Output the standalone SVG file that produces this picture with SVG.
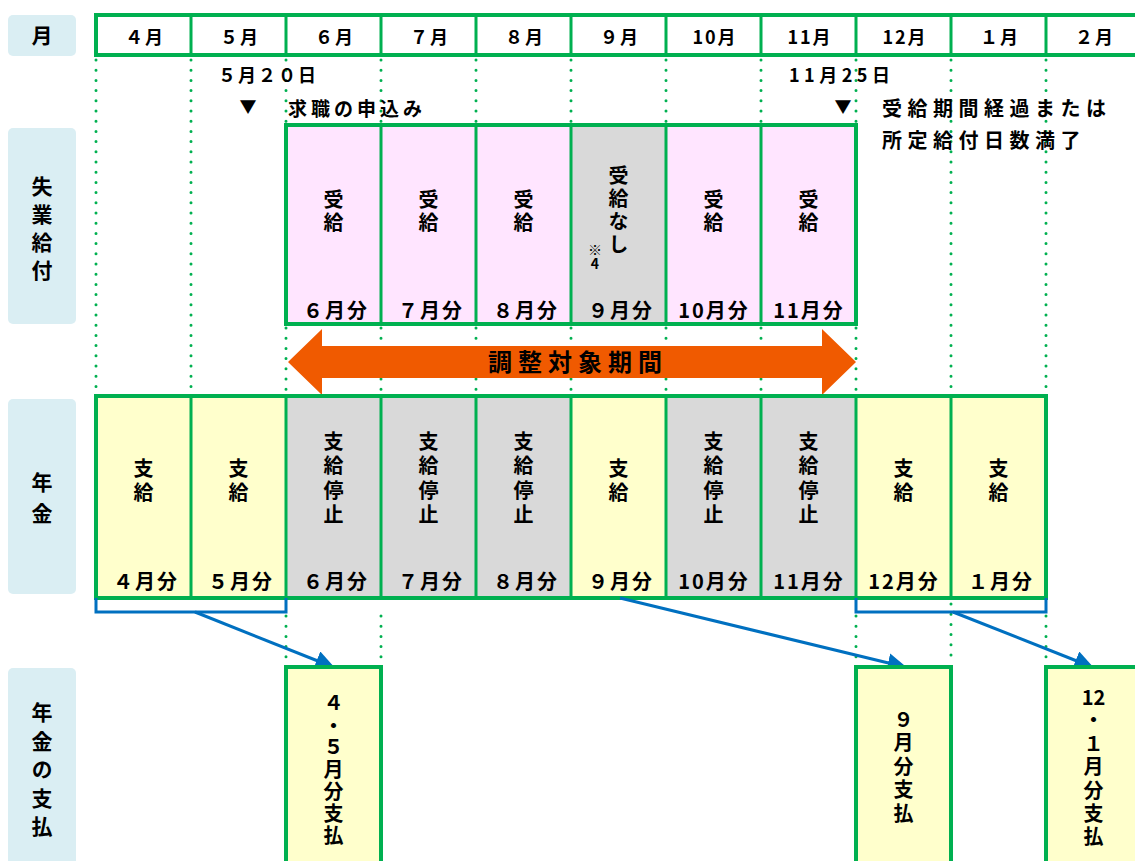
<svg xmlns="http://www.w3.org/2000/svg" width="1135" height="861" viewBox="0 0 1135 861">
<style>
text{font-family:"Noto Sans CJK JP","Liberation Sans",sans-serif;font-weight:700;fill:#000}
.lab{fill:#DAEEF3}
.g{stroke:#00B050;stroke-width:3}
.go{fill:none;stroke:#00B050;stroke-width:4}
.pk{fill:#FFE5FF}
.gy{fill:#D9D9D9}
.yl{fill:#FFFFCC}
.dot{stroke:#00B050;stroke-width:3;stroke-linecap:round;stroke-dasharray:0 10.2;fill:none}
.blue{stroke:#0070C0;stroke-width:3;fill:none}
.v{writing-mode:vertical-rl;text-orientation:upright;text-anchor:middle;font-size:20px}
.b{text-anchor:middle;font-size:20px;letter-spacing:2px}
.h{text-anchor:middle;font-size:18px;letter-spacing:2px}
.L{writing-mode:vertical-rl;text-orientation:upright;text-anchor:middle;font-size:21px}
</style>
<defs>
<marker id="ah" viewBox="0 0 10 10" refX="9" refY="5" markerWidth="6.5" markerHeight="6.5" markerUnits="strokeWidth" orient="auto">
<path d="M0,0 L10,5 L0,10 z" fill="#0070C0"/>
</marker>
</defs>

<g id="labels">
<g id="lab-month"><rect class="lab" x="8" y="15" width="68" height="41" rx="5"/><text x="42" y="43" style="font-size:21px;text-anchor:middle">月</text></g>
<g id="lab-unemp"><rect class="lab" x="8" y="128" width="68" height="196" rx="5"/>
<text class="L" x="42" y="232" style="letter-spacing:7px">失業給付</text></g>
<g id="lab-pension"><rect class="lab" x="8" y="399" width="68" height="195" rx="5"/>
<text class="L" x="42" y="503" style="letter-spacing:10px">年金</text></g>
<g id="lab-pay"><rect class="lab" x="8" y="668" width="68" height="210" rx="5"/>
<text class="L" x="42" y="773" style="letter-spacing:7.5px">年金の支払</text></g>
</g>

<g id="dotted">
<path class="dot" d="M96,60V392 M191,60V392 M286,60V122 M286,328V392 M286,616V664 M381,60V122 M381,328V392 M381,616V664 M476,60V122 M476,328V392 M571,60V122 M571,328V392 M666,60V122 M666,328V392 M761,60V122 M761,328V392 M856,60V122 M856,328V392 M856,616V664 M951,60V392 M951,604V664 M1046,60V392 M1046,616V664"/>
</g>

<g id="header">
<rect x="96" y="15" width="1045" height="40" fill="#fff"/>
<path class="g" d="M191,15V55 M286,15V55 M381,15V55 M476,15V55 M571,15V55 M666,15V55 M761,15V55 M856,15V55 M951,15V55 M1046,15V55"/>
<rect class="go" x="96" y="15" width="1045" height="40"/>
<text class="h" x="145" y="44">４月</text>
<text class="h" x="240" y="44">５月</text>
<text class="h" x="335" y="44">６月</text>
<text class="h" x="430" y="44">７月</text>
<text class="h" x="525" y="44">８月</text>
<text class="h" x="620" y="44">９月</text>
<text class="h" x="715" y="44">10月</text>
<text class="h" x="810" y="44">11月</text>
<text class="h" x="905" y="44">12月</text>
<text class="h" x="1000" y="44">１月</text>
<text class="h" x="1095" y="44">２月</text>
</g>

<g id="notes">
<text x="218" y="82" style="font-size:18px;letter-spacing:2px">５月２０日</text>
<text x="248" y="113" style="font-size:17px;text-anchor:middle">▼</text>
<text x="288" y="116" style="font-size:19px;letter-spacing:4px">求職の申込み</text>
<text x="789" y="82" style="font-size:18px;letter-spacing:4.5px">11月25日</text>
<text x="843" y="113" style="font-size:17px;text-anchor:middle">▼</text>
<text x="882" y="116" style="font-size:20px;letter-spacing:5.5px">受給期間経過または</text>
<text x="882" y="148" style="font-size:20px;letter-spacing:5.5px">所定給付日数満了</text>
</g>

<g id="adjust-arrow">
<polygon points="288,362 322,329 322,346 822,346 822,329 856,362 822,395 822,378 322,378 322,395" fill="#F05A00"/>
<text x="578" y="371" style="font-size:24px;text-anchor:middle;letter-spacing:6px">調整対象期間</text>
</g>

<g id="unemployment">
<rect class="pk" x="286" y="125" width="95" height="199"/>
<rect class="pk" x="381" y="125" width="95" height="199"/>
<rect class="pk" x="476" y="125" width="95" height="199"/>
<rect class="gy" x="571" y="125" width="95" height="199"/>
<rect class="pk" x="666" y="125" width="95" height="199"/>
<rect class="pk" x="761" y="125" width="95" height="199"/>
<path class="g" d="M381,125V324 M476,125V324 M571,125V324 M666,125V324 M761,125V324"/>
<rect class="go" x="286" y="125" width="570" height="199"/>
<text class="v" x="333.5" y="212" style="letter-spacing:3px">受給</text>
<text class="v" x="428.5" y="212" style="letter-spacing:3px">受給</text>
<text class="v" x="523.5" y="212" style="letter-spacing:3px">受給</text>
<text class="v" x="618.5" y="211" style="letter-spacing:3px">受給なし</text>
<text class="v" x="595" y="257" style="font-size:14px">※4</text>
<text class="v" x="713.5" y="212" style="letter-spacing:3px">受給</text>
<text class="v" x="808.5" y="212" style="letter-spacing:3px">受給</text>
<text class="b" x="336" y="318">６月分</text>
<text class="b" x="431" y="318">７月分</text>
<text class="b" x="526" y="318">８月分</text>
<text class="b" x="621" y="318">９月分</text>
<text class="b" x="714" y="318">10月分</text>
<text class="b" x="809" y="318">11月分</text>
</g>

<g id="pension">
<rect class="yl" x="96" y="396" width="95" height="202"/>
<rect class="yl" x="191" y="396" width="95" height="202"/>
<rect class="gy" x="286" y="396" width="95" height="202"/>
<rect class="gy" x="381" y="396" width="95" height="202"/>
<rect class="gy" x="476" y="396" width="95" height="202"/>
<rect class="yl" x="571" y="396" width="95" height="202"/>
<rect class="gy" x="666" y="396" width="95" height="202"/>
<rect class="gy" x="761" y="396" width="95" height="202"/>
<rect class="yl" x="856" y="396" width="95" height="202"/>
<rect class="yl" x="951" y="396" width="95" height="202"/>
<path class="g" d="M191,396V598 M286,396V598 M381,396V598 M476,396V598 M571,396V598 M666,396V598 M761,396V598 M856,396V598 M951,396V598"/>
<rect class="go" x="96" y="396" width="950" height="202"/>
<text class="v" x="143.5" y="482" style="letter-spacing:4px">支給</text>
<text class="v" x="238.5" y="482" style="letter-spacing:4px">支給</text>
<text class="v" x="333.5" y="480" style="letter-spacing:4.5px">支給停止</text>
<text class="v" x="428.5" y="480" style="letter-spacing:4.5px">支給停止</text>
<text class="v" x="523.5" y="480" style="letter-spacing:4.5px">支給停止</text>
<text class="v" x="618.5" y="482" style="letter-spacing:4px">支給</text>
<text class="v" x="713.5" y="480" style="letter-spacing:4.5px">支給停止</text>
<text class="v" x="808.5" y="480" style="letter-spacing:4.5px">支給停止</text>
<text class="v" x="903.5" y="482" style="letter-spacing:4px">支給</text>
<text class="v" x="998.5" y="482" style="letter-spacing:4px">支給</text>
<text class="b" x="146" y="589">４月分</text>
<text class="b" x="241" y="589">５月分</text>
<text class="b" x="336" y="589">６月分</text>
<text class="b" x="431" y="589">７月分</text>
<text class="b" x="526" y="589">８月分</text>
<text class="b" x="621" y="589">９月分</text>
<text class="b" x="714" y="589">10月分</text>
<text class="b" x="809" y="589">11月分</text>
<text class="b" x="904" y="589">12月分</text>
<text class="b" x="1001" y="589">１月分</text>
</g>

<g id="connectors">
<path class="blue" d="M96,598V612H286V598"/>
<path class="blue" d="M856,598V612H1046V598"/>
<path class="blue" d="M195,612L333,667" marker-end="url(#ah)"/>
<path class="blue" d="M620,598L905,667" marker-end="url(#ah)"/>
<path class="blue" d="M953,612L1092,667" marker-end="url(#ah)"/>
</g>

<g id="pay-45">
<rect class="yl" x="286" y="667" width="95" height="210"/>
<rect class="go" x="286" y="667" width="95" height="210"/>
<text class="v" x="333.5" y="770" style="letter-spacing:2px">４・５月分支払</text>
</g>
<g id="pay-9">
<rect class="yl" x="856" y="667" width="95" height="210"/>
<rect class="go" x="856" y="667" width="95" height="210"/>
<text class="v" x="903.5" y="768" style="letter-spacing:3.5px">９月分支払</text>
</g>
<g id="pay-121">
<rect class="yl" x="1046" y="667" width="95" height="210"/>
<rect class="go" x="1046" y="667" width="95" height="210"/>
<text x="1093.5" y="705" style="font-size:20px;text-anchor:middle">12</text>
<text class="v" x="1093.5" y="780" style="letter-spacing:3.4px">・１月分支払</text>
</g>
</svg>
